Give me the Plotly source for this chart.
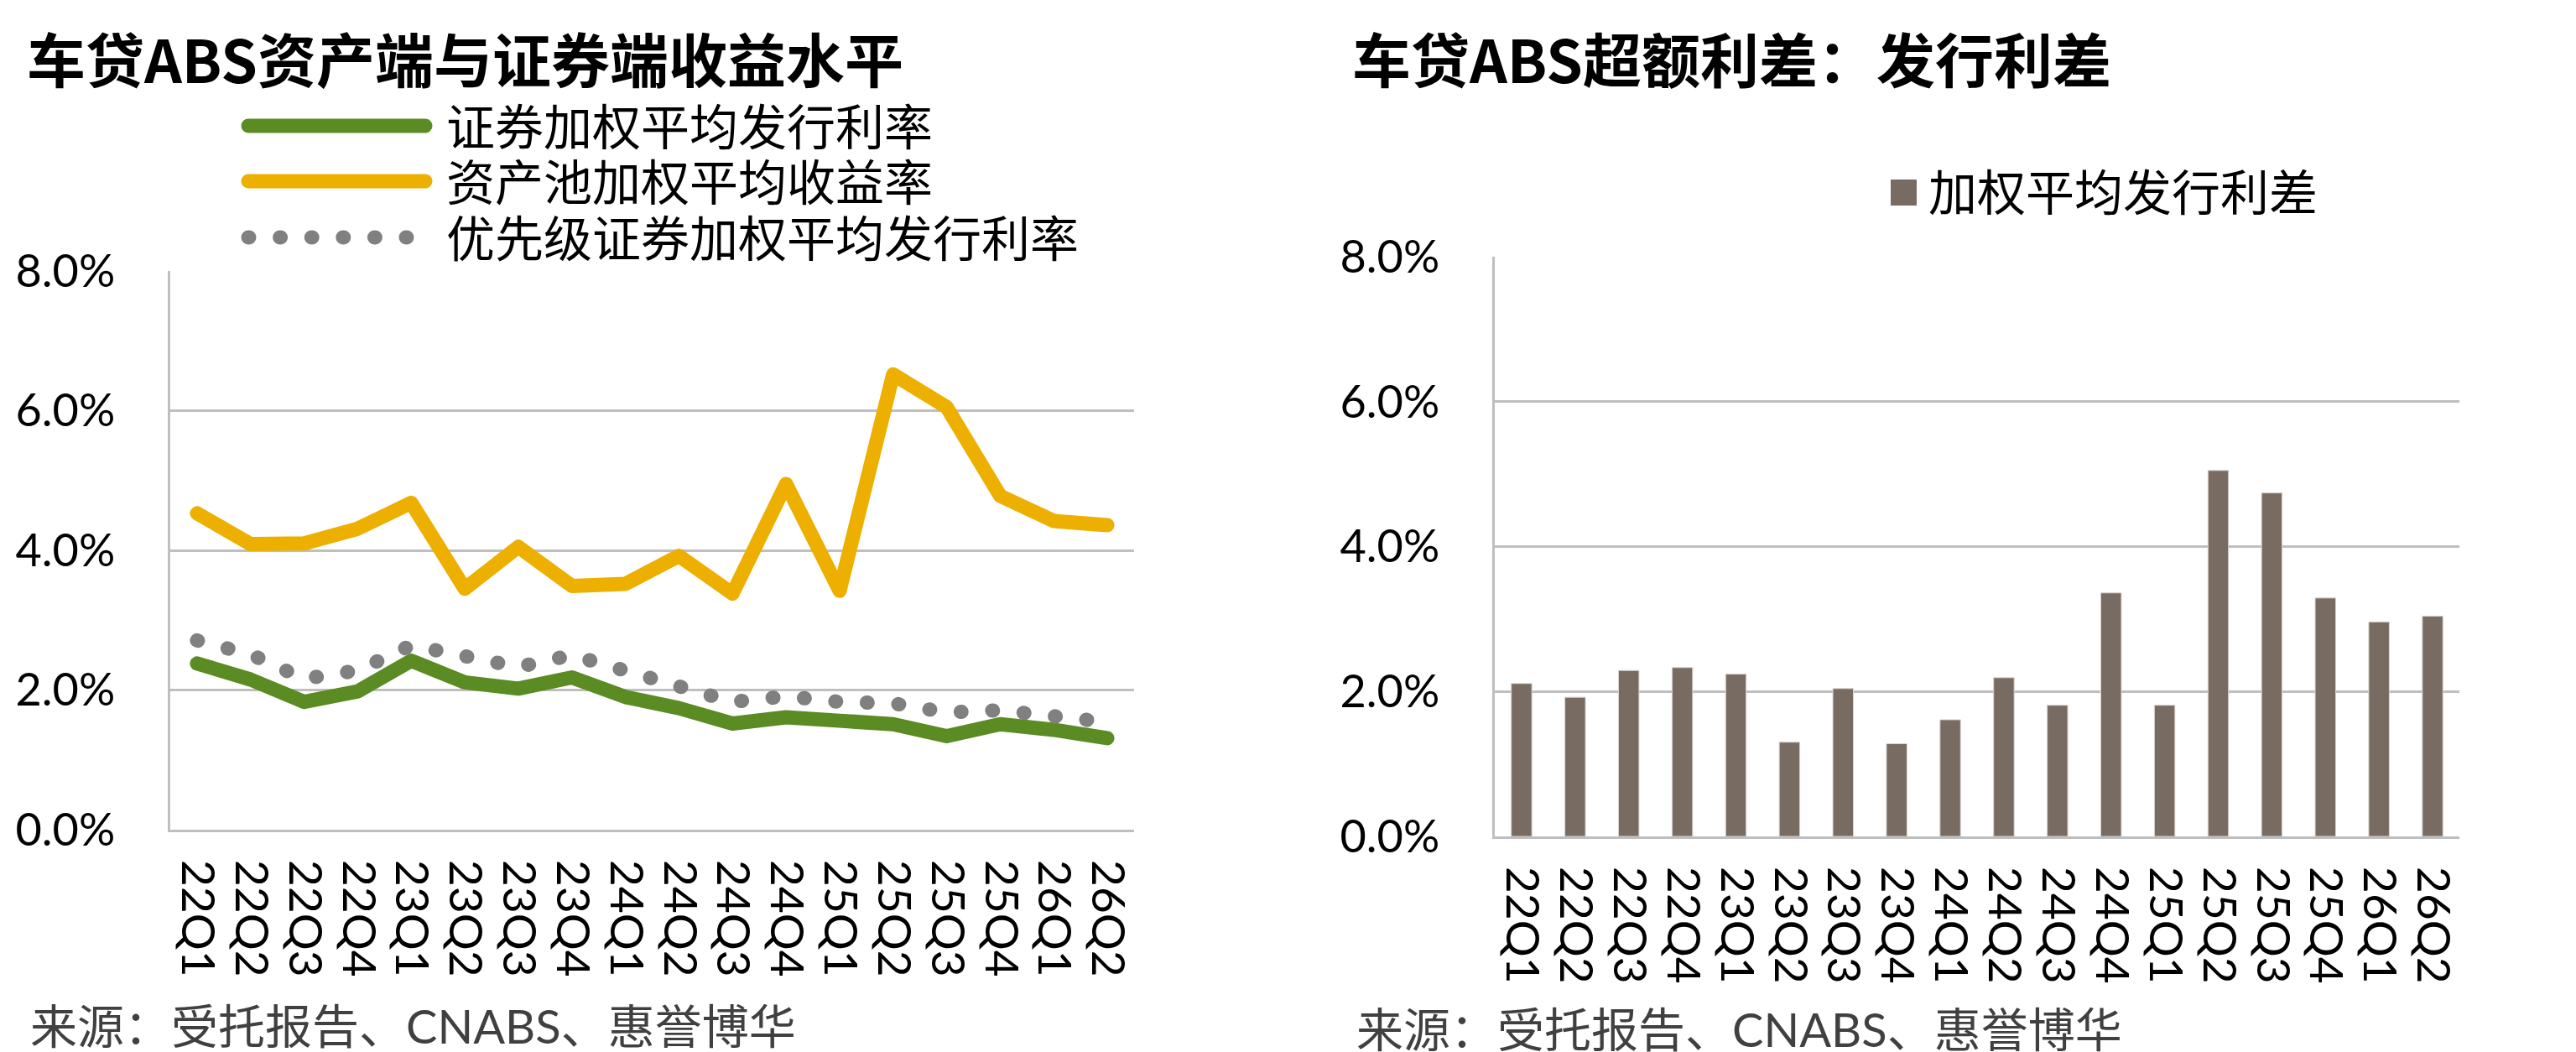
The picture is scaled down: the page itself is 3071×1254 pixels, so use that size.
import plotly.graph_objects as go

# ---------------- data ----------------
quarters = ["22Q1", "22Q2", "22Q3", "22Q4", "23Q1", "23Q2", "23Q3", "23Q4",
            "24Q1", "24Q2", "24Q3", "24Q4", "25Q1", "25Q2", "25Q3", "25Q4",
            "26Q1", "26Q2"]

# 证券加权平均发行利率 (%)
issue_rate = [2.38, 2.15, 1.83, 1.98, 2.42, 2.11, 2.02, 2.18, 1.90, 1.74,
              1.52, 1.61, 1.56, 1.51, 1.34, 1.51, 1.43, 1.31]
# 资产池加权平均收益率 (%)
asset_yield = [4.53, 4.09, 4.10, 4.31, 4.68, 3.45, 4.05, 3.49, 3.52, 3.92,
               3.38, 4.95, 3.42, 6.52, 6.05, 4.78, 4.42, 4.36]
# 优先级证券加权平均发行利率 (%)
senior_rate = [2.71, 2.51, 2.16, 2.28, 2.64, 2.48, 2.33, 2.50, 2.29, 2.04,
               1.83, 1.91, 1.83, 1.81, 1.68, 1.71, 1.65, 1.54]
# 加权平均发行利差 (%)
spread = [2.11, 1.92, 2.29, 2.33, 2.24, 1.30, 2.04, 1.28, 1.61, 2.19,
          1.81, 3.36, 1.81, 5.05, 4.74, 3.29, 2.96, 3.04]

y_ticks = [0, 2, 4, 6, 8]
y_tick_labels = ["0.0%", "2.0%", "4.0%", "6.0%", "8.0%"]

left_title = "车贷ABS资产端与证券端收益水平"
right_title = "车贷ABS超额利差：发行利差"
series_names = ["证券加权平均发行利率", "资产池加权平均收益率", "优先级证券加权平均发行利率"]
bar_name = "加权平均发行利差"
source_text = "来源：受托报告、CNABS、惠誉博华"

# ---------------- style ----------------
W, H = 3071, 1254
GREEN = "#5A8C23"
YELLOW = "#EDAF00"
GRAY = "#808080"
BAR = "#786C62"
GRID = "#BFBFBF"
FONT = "Lato, Noto Sans CJK SC, sans-serif"
TITLE_FONT = "Noto Sans CJK SC, Lato, sans-serif"
LW = 17
DOT_DASH = "1px,36.6px"


def px(x):
    return x / W


def py(y):
    return 1 - y / H


fig = go.Figure()

fig.add_trace(go.Scatter(x=quarters, y=issue_rate, name=series_names[0], mode="lines",
                         line=dict(color=GREEN, width=LW), xaxis="x", yaxis="y"))
fig.add_trace(go.Scatter(x=quarters, y=asset_yield, name=series_names[1], mode="lines",
                         line=dict(color=YELLOW, width=LW), xaxis="x", yaxis="y"))
fig.add_trace(go.Scatter(x=quarters, y=senior_rate, name=series_names[2], mode="lines",
                         line=dict(color=GRAY, width=LW, dash=DOT_DASH), xaxis="x", yaxis="y"))
fig.add_trace(go.Bar(x=quarters, y=spread, name=bar_name,
                     marker=dict(color=BAR, line=dict(color="#D9D4D0", width=1)),
                     xaxis="x2", yaxis="y2"))

axis_common_x = dict(type="category", range=[-0.5, len(quarters) - 0.5],
                     tickmode="array", tickvals=quarters, ticktext=quarters,
                     tickangle=90, showline=True, linecolor=GRID, linewidth=3,
                     showgrid=False, zeroline=False, ticks="",
                     tickfont=dict(family=FONT, size=55, color="#000000"),
                     ticklabelstandoff=22, automargin=False, fixedrange=True)
axis_common_y = dict(range=[0, 8], tickmode="array", tickvals=y_ticks, ticktext=y_tick_labels,
                     showline=True, linecolor=GRID, linewidth=3,
                     showgrid=True, gridcolor=GRID, gridwidth=3, zeroline=False, ticks="",
                     tickfont=dict(family=FONT, size=54, color="#000000"),
                     ticklabelstandoff=52, automargin=False, fixedrange=True)

fig.update_layout(
    width=W, height=H,
    margin=dict(l=0, r=0, t=0, b=0),
    paper_bgcolor="white", plot_bgcolor="white",
    showlegend=False,
    bargap=0.617,
    xaxis=dict(domain=[px(195), px(1344)], anchor="y", **axis_common_x),
    yaxis=dict(domain=[py(981), py(315)], anchor="x", **axis_common_y),
    xaxis2=dict(domain=[px(1774), px(2924)], anchor="y2", **axis_common_x),
    yaxis2=dict(domain=[py(989), py(298)], anchor="x2", **axis_common_y),
)

shapes = [
    dict(type="line", xref="paper", yref="paper", x0=px(288), x1=px(499), y0=py(142), y1=py(142),
         line=dict(color=GREEN, width=LW)),
    dict(type="line", xref="paper", yref="paper", x0=px(288), x1=px(499), y0=py(208), y1=py(208),
         line=dict(color=YELLOW, width=LW)),
    dict(type="line", xref="paper", yref="paper", x0=px(288), x1=px(478), y0=py(275), y1=py(275),
         line=dict(color=GRAY, width=LW, dash=DOT_DASH)),
    dict(type="rect", xref="paper", yref="paper", x0=px(2246), x1=px(2277), y0=py(237), y1=py(206),
         fillcolor=BAR, line=dict(width=0)),
]
fig.update_layout(shapes=shapes)

ann = []
ann.append(dict(text="<b>" + left_title + "</b>", x=px(22), y=py(60), xref="paper", yref="paper",
                xanchor="left", yanchor="middle", showarrow=False,
                font=dict(family=TITLE_FONT, size=70, color="#000000")))
ann.append(dict(text="<b>" + right_title + "</b>", x=px(1602), y=py(60), xref="paper", yref="paper",
                xanchor="left", yanchor="middle", showarrow=False,
                font=dict(family=TITLE_FONT, size=70, color="#000000")))
for name, yc in zip(series_names, [142, 208, 275]):
    ann.append(dict(text=name, x=px(522), y=py(yc), xref="paper", yref="paper",
                    xanchor="left", yanchor="middle", showarrow=False,
                    font=dict(family=FONT, size=58, color="#000000")))
ann.append(dict(text=bar_name, x=px(2289), y=py(220), xref="paper", yref="paper",
                xanchor="left", yanchor="middle", showarrow=False,
                font=dict(family=FONT, size=58, color="#000000")))
ann.append(dict(text=source_text, x=px(26), y=py(1214), xref="paper", yref="paper",
                xanchor="left", yanchor="middle", showarrow=False,
                font=dict(family=FONT, size=56, color="#404040")))
ann.append(dict(text=source_text, x=px(1607), y=py(1218), xref="paper", yref="paper",
                xanchor="left", yanchor="middle", showarrow=False,
                font=dict(family=FONT, size=56, color="#404040")))
fig.update_layout(annotations=ann)

post_js = (
    "var s=document.createElement('style');"
    "s.innerHTML='.js-line, .shapelayer path{stroke-linecap:round !important;"
    "stroke-linejoin:round !important;}';"
    "document.head.appendChild(s);"
)

fig.write_html("out.html", post_script=post_js, config={"displayModeBar": False})
